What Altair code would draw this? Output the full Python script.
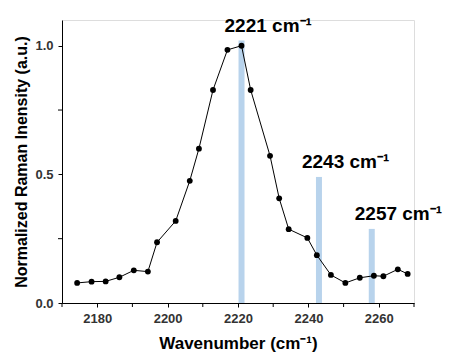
import altair as alt
import pandas as pd

wavenumber = [2174.3, 2178.4, 2182.4, 2186.3, 2190.4, 2194.4, 2197.0, 2202.3, 2206.3,
              2208.9, 2212.9, 2217.0, 2221.0, 2223.6, 2229.1, 2231.7, 2234.4, 2239.7,
              2242.4, 2246.4, 2250.5, 2254.6, 2258.6, 2261.3, 2265.4, 2268.2]
intensity = [0.078, 0.083, 0.084, 0.100, 0.127, 0.122, 0.236, 0.319, 0.475,
             0.600, 0.828, 0.984, 1.000, 0.828, 0.572, 0.407, 0.287, 0.253,
             0.186, 0.109, 0.078, 0.098, 0.106, 0.104, 0.131, 0.113]

peak_pos = [2221.0, 2243.0, 2258.0]
peak_height = [1.02, 0.49, 0.288]
peak_label = ["2221 cm⁻¹", "2243 cm⁻¹", "2257 cm⁻¹"]

x_major = [2180, 2200, 2220, 2240, 2260]
x_minor = [2170, 2190, 2210, 2230, 2250, 2270]
y_major = [0.0, 0.5, 1.0]
y_minor = [0.25, 0.75]

spec = pd.DataFrame({"x": wavenumber, "y": intensity})
peaks = pd.DataFrame({"x": peak_pos, "y": peak_height, "label": peak_label})
xmin_df = pd.DataFrame({"x": x_minor})
ymin_df = pd.DataFrame({"y": y_minor})

FONT = "Liberation Sans"
H = 283
xscale = alt.Scale(domain=[2170, 2270], nice=False, zero=False, padding=0)
yscale = alt.Scale(domain=[0, 1.1], nice=False, padding=0)

xaxis = alt.Axis(values=x_major, format="d", labelOverlap=False,
                 title="Wavenumber (cm⁻¹)", grid=False, tickSize=4, domainColor="black",
                 tickColor="black", labelFont=FONT, labelFontWeight="bold", labelFontSize=13,
                 labelColor="#333", titleFont=FONT, titleFontWeight="bold", titleFontSize=17,
                 titleColor="black", labelPadding=5, titlePadding=10)
yaxis = alt.Axis(values=y_major, format=".1f", labelOverlap=False,
                 title="Normalized Raman Inensity (a.u.)", grid=False, tickSize=4,
                 domainColor="black", tickColor="black", labelFont=FONT, labelFontWeight="bold",
                 labelFontSize=13, labelColor="#333", titleFont=FONT, titleFontWeight="bold",
                 titleFontSize=16, titleColor="black", labelPadding=5, titlePadding=5)

bars = alt.Chart(peaks).mark_bar(size=6, color="#b8d3ec").encode(
    x=alt.X("x:Q", scale=xscale, axis=xaxis),
    y=alt.Y("y:Q", scale=yscale, axis=yaxis),
)
line = alt.Chart(spec).mark_line(color="black", strokeWidth=1).encode(
    x=alt.X("x:Q", scale=xscale), y=alt.Y("y:Q", scale=yscale))
pts = alt.Chart(spec).mark_point(filled=True, color="black", size=34, opacity=1).encode(
    x=alt.X("x:Q", scale=xscale), y=alt.Y("y:Q", scale=yscale))
texts = alt.Chart(peaks).mark_text(align="left", baseline="alphabetic", dx=-17, dy=-9,
                                   font=FONT, fontWeight="bold", fontSize=19,
                                   color="black").encode(
    x=alt.X("x:Q", scale=xscale), y=alt.Y("y:Q", scale=yscale), text="label:N")
xminor = alt.Chart(xmin_df).mark_rule(color="black", strokeWidth=1).encode(
    x=alt.X("x:Q", scale=xscale), y=alt.value(H), y2=alt.value(H + 4))
yminor = alt.Chart(ymin_df).mark_rule(color="black", strokeWidth=1).encode(
    y=alt.Y("y:Q", scale=yscale), x=alt.value(0), x2=alt.value(-4))

chart = alt.layer(bars, line, pts, texts, xminor, yminor).properties(
    width=352, height=H,
    autosize=alt.AutoSizeParams(type="none"),
    padding={"left": 54, "top": 12, "right": 30, "bottom": 50},
).configure_view(stroke=None, clip=False).configure(background="white")

chart.save("out.html", embed_options={"renderer": "svg", "actions": False})
